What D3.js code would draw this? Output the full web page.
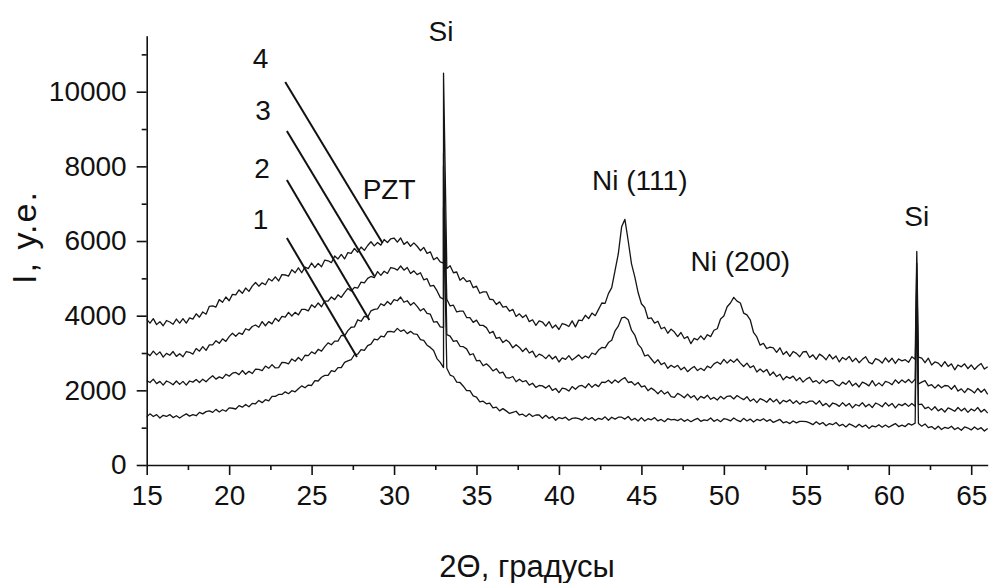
<!DOCTYPE html>
<html>
<head>
<meta charset="utf-8">
<script src="https://d3js.org/d3.v7.min.js"></script>
<style>
    body { margin: 0; background: #fff; }
    text { font-family: "Liberation Sans", Arial, sans-serif; fill: #111; }
</style>
</head>
<body>
<div id="chart"></div>
<script>
// scans sampled every 0.2 deg of 2-theta, from 15 to 66
var thetaStart = 15,
    thetaStep = 0.2;

var curve1 = [
    1290,1370,1300,1350,1260,1330,1300,1350,1270,1320,
    1260,1320,1370,1310,1350,1320,1410,1370,1430,1450,
    1410,1490,1420,1480,1440,1530,1520,1500,1590,1550,
    1620,1560,1650,1640,1730,1670,1750,1720,1840,1840,
    1890,1890,1960,1910,1990,1960,2040,2120,2070,2140,
    2130,2260,2250,2350,2400,2400,2530,2500,2610,2610,
    2750,2790,2820,2960,2970,3090,3070,3200,3240,3370,
    3350,3450,3430,3570,3580,3560,3660,3580,3620,3520,
    3580,3510,3500,3360,3340,3210,3150,3070,2850,2750,
    2610,2590,2410,2370,2220,2210,2110,1990,1990,1850,
    1820,1690,1710,1640,1660,1530,1550,1450,1510,1450,
    1380,1410,1440,1340,1360,1300,1370,1300,1340,1340,
    1250,1330,1250,1300,1200,1270,1240,1280,1200,1250,
    1260,1240,1200,1280,1220,1270,1190,1250,1220,1290,
    1200,1280,1230,1280,1280,1230,1300,1200,1250,1180,
    1270,1180,1240,1210,1270,1180,1220,1160,1240,1210,
    1220,1190,1240,1170,1220,1160,1210,1250,1170,1210,
    1190,1260,1170,1220,1160,1240,1220,1180,1260,1200,
    1160,1250,1180,1230,1150,1220,1190,1240,1170,1220,
    1140,1180,1220,1130,1160,1110,1180,1130,1170,1170,
    1160,1130,1080,1160,1090,1140,1050,1110,1080,1140,
    1050,1090,1020,1100,1060,1010,1090,1020,1070,980,
    1050,1020,1080,1010,1070,1010,1060,1110,1030,1070,
    1030,1110,1070,1120,1110,1040,1100,1000,1030,960,
    1040,950,1010,980,1040,950,1000,930,1020,990,
    940,1020,950,1000,910,980
];

var curve2 = [
    2260,2210,2300,2180,2240,2140,2250,2210,2150,2250,
    2160,2240,2140,2250,2220,2290,2210,2300,2230,2320,
    2390,2300,2360,2320,2430,2380,2460,2480,2420,2530,
    2430,2510,2450,2570,2560,2530,2650,2590,2690,2600,
    2610,2750,2740,2710,2840,2780,2880,2800,2940,2930,
    3030,2980,3100,3050,3170,3270,3220,3320,3320,3470,
    3460,3600,3690,3700,3890,3850,3980,3960,4130,4170,
    4180,4320,4270,4380,4300,4430,4400,4500,4360,4400,
    4280,4350,4250,4130,4190,4060,4040,3830,3840,3700,
    3690,3490,3450,3310,3330,3180,3170,3110,2950,2980,
    2790,2800,2660,2710,2630,2520,2580,2460,2490,2340,
    2330,2370,2230,2300,2230,2260,2140,2190,2080,2130,
    2120,2060,2130,2000,2050,1940,2060,2040,1980,2100,
    2030,2110,2130,2070,2180,2080,2160,2100,2220,2210,
    2270,2190,2280,2210,2290,2340,2210,2230,2140,2210,
    2090,2120,1990,2060,2000,1910,2000,1900,1960,1830,
    1810,1920,1870,1800,1900,1800,1860,1740,1840,1790,
    1870,1760,1810,1740,1840,1770,1840,1850,1770,1860,
    1800,1750,1830,1710,1770,1670,1780,1740,1680,1780,
    1690,1760,1640,1730,1690,1750,1650,1720,1630,1700,
    1660,1710,1710,1630,1720,1590,1650,1560,1660,1630,
    1570,1670,1580,1650,1530,1620,1580,1670,1560,1630,
    1540,1660,1620,1560,1670,1580,1650,1530,1630,1590,
    1650,1570,1650,1570,1620,1630,1510,1550,1470,1560,
    1450,1510,1420,1530,1490,1440,1540,1450,1520,1410,
    1500,1450,1540,1420,1490,1390
];

var curve3 = [
    3000,2930,3050,2950,3030,2890,2990,2940,3040,2910,
    2980,2900,3040,3020,2970,3120,3050,3170,3070,3220,
    3220,3330,3260,3380,3310,3440,3530,3450,3540,3500,
    3650,3610,3710,3750,3690,3840,3730,3840,3780,3930,
    3850,3980,3960,4090,3990,4090,4020,4170,4170,4130,
    4290,4220,4340,4240,4390,4390,4500,4430,4560,4490,
    4620,4730,4660,4760,4740,4900,4880,5000,5050,5020,
    5180,5080,5190,5130,5290,5270,5220,5330,5220,5290,
    5130,5200,5100,5150,4960,4990,4790,4810,4670,4490,
    4440,4440,4260,4280,4100,4120,4120,3950,3950,3820,
    3880,3740,3740,3680,3530,3580,3390,3420,3280,3350,
    3280,3140,3220,3150,3040,3130,3000,3050,2890,2970,
    2930,2850,2950,2840,2910,2760,2870,2830,2930,2810,
    2880,2950,2850,2920,2870,3000,2960,3080,3150,3140,
    3280,3340,3590,3720,3940,3960,3890,3610,3480,3230,
    3130,2920,2950,2840,2730,2820,2690,2740,2590,2670,
    2610,2670,2550,2620,2500,2580,2640,2530,2590,2530,
    2650,2600,2710,2760,2700,2830,2730,2820,2750,2840,
    2730,2640,2730,2610,2660,2490,2570,2490,2560,2400,
    2490,2370,2430,2280,2370,2320,2380,2260,2340,2220,
    2300,2350,2220,2260,2180,2280,2200,2260,2260,2160,
    2120,2220,2160,2260,2120,2190,2090,2220,2180,2120,
    2260,2120,2200,2120,2240,2210,2150,2280,2190,2280,
    2210,2290,2200,2300,2170,2220,2260,2120,2150,2060,
    2150,2070,2130,2120,2030,2130,1980,2040,1940,2050,
    2000,1930,2050,1950,2030,1890
];

var curve4 = [
    3900,3800,3920,3760,3840,3730,3870,3830,3770,3910,
    3800,3920,3800,3940,3910,4050,3960,4100,4040,4250,
    4260,4230,4430,4360,4500,4400,4570,4560,4690,4600,
    4740,4650,4790,4890,4790,4880,4830,4990,4930,5040,
    4930,5100,5090,5060,5230,5150,5280,5150,5300,5260,
    5410,5290,5400,5310,5490,5470,5420,5600,5520,5640,
    5520,5690,5670,5800,5700,5840,5750,5880,5980,5870,
    5960,5890,6040,5960,6060,6080,5970,6080,5910,5980,
    5860,5950,5860,5740,5830,5670,5710,5500,5560,5440,
    5410,5260,5340,5150,5170,4950,5020,4910,4940,4750,
    4790,4600,4640,4640,4440,4430,4300,4370,4230,4250,
    4120,4170,3980,4050,3950,4020,3840,3890,3740,3860,
    3830,3720,3840,3670,3750,3630,3790,3760,3710,3860,
    3700,3880,3870,4010,3920,4070,4000,4170,4340,4330,
    4590,4750,5210,5660,6380,6580,6000,5390,5040,4620,
    4320,4220,3920,3940,3800,3850,3650,3690,3530,3640,
    3560,3440,3550,3390,3440,3250,3390,3350,3460,3360,
    3490,3440,3610,3650,3910,3990,4240,4340,4490,4390,
    4340,4070,4020,3890,3550,3430,3210,3260,3120,3160,
    3140,3020,3140,2960,3040,2910,3040,2990,2900,3030,
    3040,2880,2950,2830,2970,2910,2820,2960,2840,2920,
    2760,2880,2820,2910,2770,2860,2740,2830,2900,2750,
    2710,2850,2810,2730,2870,2760,2860,2720,2840,2790,
    2820,2750,2900,2830,2890,2860,2740,2860,2680,2760,
    2730,2640,2770,2640,2710,2550,2680,2630,2710,2580,
    2680,2560,2650,2720,2570,2630
];

// narrow Si reflections, top of each spike per curve
var siPositions = [33.0, 61.7];
var siPeak1 = [6900, 4600];
var siPeak2 = [8350, 5000];
var siPeak3 = [8000, 5400];
var siPeak4 = [10500, 5720];

var xTicks = [15, 20, 25, 30, 35, 40, 45, 50, 55, 60, 65];
var xMinorTicks = [17.5, 22.5, 27.5, 32.5, 37.5, 42.5, 47.5, 52.5, 57.5, 62.5];
var yTicks = [0, 2000, 4000, 6000, 8000, 10000];
var yMinorTicks = [1000, 3000, 5000, 7000, 9000, 11000];

var curveNames = ["1", "2", "3", "4"];
var curveNamePos = [[21.9, 6590], [22.0, 7956], [22.05, 9510], [21.9, 10903]];
// pointer lines from numbers to curves: [x1, y1, x2, y2]
var pointers = [
    [23.5, 6081, 27.75, 2893],
    [23.5, 7635, 28.5, 3884],
    [23.5, 8948, 28.8, 5063],
    [23.4, 10260, 29.3, 5947]
];
var peakNames = ["Si", "PZT", "Ni (111)", "Ni (200)", "Si"];
var peakNamePos = [[32.85, 11626], [29.7, 7394], [44.9, 7635], [51.0, 5465], [61.7, 6670]];

var width = 991,
    height = 583;

var svg = d3.select("#chart")
    .append("svg")
    .attr("width", width)
    .attr("height", height);

var x = d3.scaleLinear().domain([15, 66]).range([146.7, 987.7]);
var y = d3.scaleLinear().domain([0, 11500]).range([465, 35.7]);

function buildSeries(values, peaks) {
    var pts = values.map(function(v, i) {
        return { x: Math.round((thetaStart + i * thetaStep) * 10) / 10, y: v };
    });
    peaks.forEach(function(h, k) {
        pts.push({ x: siPositions[k], y: h });
    });
    pts.sort(function(a, b) { return a.x - b.x; });
    return pts;
}

var series = [
    buildSeries(curve1, siPeak1),
    buildSeries(curve2, siPeak2),
    buildSeries(curve3, siPeak3),
    buildSeries(curve4, siPeak4)
];

var line = d3.line()
    .x(function(d) { return x(d.x); })
    .y(function(d) { return y(d.y); });

svg.append("g")
    .selectAll("path")
    .data(series)
    .enter().append("path")
    .attr("d", line)
    .attr("fill", "none")
    .attr("stroke", "#151515")
    .attr("stroke-width", 1.3)
    .attr("stroke-linejoin", "round");

svg.append("g")
    .selectAll("line")
    .data(pointers)
    .enter().append("line")
    .attr("x1", function(d) { return x(d[0]); })
    .attr("y1", function(d) { return y(d[1]); })
    .attr("x2", function(d) { return x(d[2]); })
    .attr("y2", function(d) { return y(d[3]); })
    .attr("stroke", "#111")
    .attr("stroke-width", 2);

// axes
svg.append("g")
    .attr("transform", "translate(0," + y(0) + ")")
    .call(d3.axisBottom(x).tickValues(xTicks).tickFormat(d3.format("d"))
        .tickSize(10).tickPadding(10).tickSizeOuter(0));
svg.append("g")
    .attr("transform", "translate(0," + y(0) + ")")
    .call(d3.axisBottom(x).tickValues(xMinorTicks).tickSize(5).tickFormat(""))
    .select(".domain").remove();

svg.append("g")
    .attr("transform", "translate(" + x(15) + ",0)")
    .call(d3.axisLeft(y).tickValues(yTicks).tickFormat(d3.format("d"))
        .tickSize(10).tickPadding(10).tickSizeOuter(0));
svg.append("g")
    .attr("transform", "translate(" + x(15) + ",0)")
    .call(d3.axisLeft(y).tickValues(yMinorTicks).tickSize(5).tickFormat(""))
    .select(".domain").remove();

svg.selectAll(".domain, .tick line")
    .attr("stroke", "#111")
    .attr("stroke-width", 1.6);
svg.selectAll(".tick text")
    .attr("font-size", 28)
    .attr("font-family", "Liberation Sans, Arial, sans-serif")
    .attr("fill", "#111");

// axis titles
svg.append("text")
    .attr("x", 527)
    .attr("y", 577)
    .attr("text-anchor", "middle")
    .attr("font-size", 31)
    .text("2\u0398, градусы");

svg.append("text")
    .attr("transform", "translate(36,237) rotate(-90)")
    .attr("text-anchor", "middle")
    .attr("font-size", 34)
    .attr("letter-spacing", 2)
    .text("I, у.е.");

// annotations
svg.append("g")
    .selectAll("text")
    .data(curveNames)
    .enter().append("text")
    .attr("x", function(d, i) { return x(curveNamePos[i][0]); })
    .attr("y", function(d, i) { return y(curveNamePos[i][1]); })
    .attr("dy", "0.36em")
    .attr("text-anchor", "middle")
    .attr("font-size", 28)
    .text(function(d) { return d; });

svg.append("g")
    .selectAll("text")
    .data(peakNames)
    .enter().append("text")
    .attr("x", function(d, i) { return x(peakNamePos[i][0]); })
    .attr("y", function(d, i) { return y(peakNamePos[i][1]); })
    .attr("dy", "0.36em")
    .attr("text-anchor", "middle")
    .attr("font-size", 28)
    .text(function(d) { return d; });
</script>
</body>
</html>
